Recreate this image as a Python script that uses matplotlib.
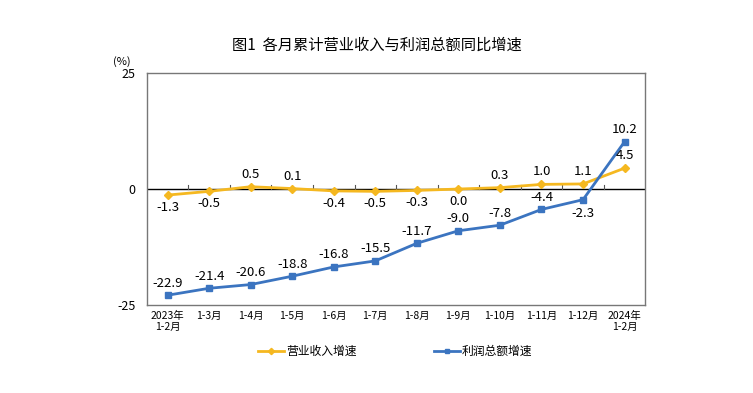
import numpy as np
import matplotlib.pyplot as plt

plt.rcParams['font.family'] = ['Noto Sans CJK SC', 'DejaVu Sans']

months = ["2023年\n1-2月", "1-3月", "1-4月", "1-5月", "1-6月", "1-7月",
          "1-8月", "1-9月", "1-10月", "1-11月", "1-12月", "2024年\n1-2月"]
revenue = [-1.3, -0.5, 0.5, 0.1, -0.4, -0.5, -0.3, 0.0, 0.3, 1.0, 1.1, 4.5]
profit = [-22.9, -21.4, -20.6, -18.8, -16.8, -15.5, -11.7, -9.0, -7.8, -4.4, -2.3, 10.2]

yellow = "#F5B820"
blue = "#3B74C0"

fig = plt.figure(figsize=(7.53, 3.93), dpi=100)
ax = fig.add_axes([0.195, 0.224, 0.662, 0.590])
x = np.arange(len(months))

ax.plot(x, revenue, color=yellow, lw=2, marker="D", ms=4, label="营业收入增速", zorder=3)
ax.plot(x, profit, color=blue, lw=2, marker="s", ms=4, label="利润总额增速", zorder=3)

# zero line with small ticks between categories
ax.axhline(0, color="black", lw=1, zorder=2)
for b in np.arange(0.5, len(months) - 0.5, 1):
    ax.plot([b, b], [0, 0.9], color="#555555", lw=0.8, zorder=2)

# value labels
for i, v in enumerate(revenue):
    if i == 0 or v < 0 or (v == 0 and i == 7):
        ax.text(i, v - 1.3, f"{v:.1f}", ha="center", va="top", fontsize=9.5)
    else:
        ax.text(i, v + 1.3, f"{v:.1f}", ha="center", va="bottom", fontsize=9.5)
for i, v in enumerate(profit):
    if i == 10:
        ax.text(i, v - 1.5, f"{v:.1f}", ha="center", va="top", fontsize=9.5)
    else:
        ax.text(i, v + 1.2, f"{v:.1f}", ha="center", va="bottom", fontsize=9.5)

ax.set_xlim(-0.5, len(months) - 0.5)
ax.set_ylim(-25, 25)
ax.set_yticks([-25, 0, 25])
ax.set_yticklabels(["-25", "0", "25"], fontsize=9)
ax.tick_params(axis="y", length=0, pad=8)
ax.set_xticks(x)
ax.set_xticklabels(months, fontsize=7.5)
ax.tick_params(axis="x", length=0, pad=4)
for s in ax.spines.values():
    s.set_color("#777777")
    s.set_linewidth(1)

fig.text(0.150, 0.83, "(%)", fontsize=8, ha="left", va="bottom")
fig.text(0.5, 0.885, "图1  各月累计营业收入与利润总额同比增速", fontsize=11,
         ha="center", va="center")

fig.legend(loc="center", bbox_to_anchor=(0.525, 0.105), ncol=2, frameon=False,
           fontsize=8.5, handlelength=2.2, handletextpad=0.2, columnspacing=6.5,
           markerscale=0.8)

fig.savefig("out.png")
